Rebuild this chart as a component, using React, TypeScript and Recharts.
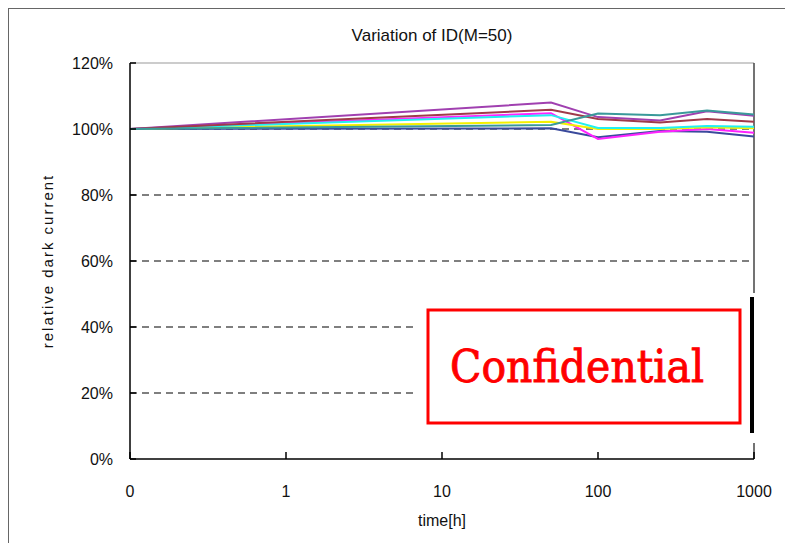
import { LineChart, Line, XAxis, YAxis, CartesianGrid, ReferenceLine } from 'recharts';

// measurement times in hours (0h is drawn at the 0.1 position of the log axis, as in the original)
const hours = [0, 50, 100, 250, 500, 1000];
const xTicks = [0.1, 1, 10, 100, 1000];
const xTickLabels = ['0', '1', '10', '100', '1000'];
const yTicks = [0, 20, 40, 60, 80, 100, 120];
const gridValues = [20, 40, 60, 80, 100];

// relative dark current, % of the initial value
const navy = [100, 100.2, 97.5, 99.4, 99.2, 97.7];
const magenta = [100, 104.8, 97.0, 99.2, 100.0, 98.9];
const yellow = [100, 102.2, 100.0, 100.0, 100.5, 100.2];
const cyan = [100, 104.2, 100.3, 100.3, 100.9, 100.7];
const purple = [100, 108.0, 103.6, 102.6, 105.4, 104.0];
const darkRed = [100, 105.8, 103.0, 102.0, 103.0, 102.2];
const teal = [100, 101.2, 104.7, 104.2, 105.6, 104.4];

const series = [
  { key: 'navy', values: navy, color: '#3a4a9c' },
  { key: 'magenta', values: magenta, color: '#ff22ff' },
  { key: 'yellow', values: yellow, color: '#f4f000' },
  { key: 'cyan', values: cyan, color: '#22f0f0' },
  { key: 'purple', values: purple, color: '#a040b0' },
  { key: 'darkRed', values: darkRed, color: '#a03a4a' },
  { key: 'teal', values: teal, color: '#3a9a9a' },
];

const data = hours.map((h, i) => {
  const row: Record<string, number> = { x: h === 0 ? 0.1 : h };
  series.forEach((s) => {
    row[s.key] = s.values[i];
  });
  return row;
});

const font = '"Liberation Sans", Arial, sans-serif';

export default function App() {
  return (
    <div
      style={{
        position: 'relative',
        width: 785,
        height: 535,
        boxSizing: 'border-box',
        borderLeft: '1px solid #666',
        borderTop: '1px solid #666',
        background: '#fff',
        fontFamily: font,
      }}
    >
      <div
        style={{
          position: 'absolute',
          left: 303,
          top: 17,
          width: 240,
          textAlign: 'center',
          fontSize: 17,
          color: '#111',
        }}
      >
        Variation of ID(M=50)
      </div>
      <LineChart
        width={784}
        height={534}
        data={data}
        margin={{ top: 54, right: 39, bottom: 0, left: 0 }}
      >
        <CartesianGrid
          vertical={false}
          horizontalValues={gridValues}
          stroke="#000"
          strokeWidth={1.2}
          strokeDasharray="7 5"
        />
        <XAxis
          dataKey="x"
          type="number"
          scale="log"
          domain={[0.1, 1000]}
          ticks={xTicks}
          allowDataOverflow
          height={84}
          tickSize={-7}
          tickMargin={34}
          stroke="#000"
          strokeWidth={1.5}
          tick={{ fill: '#111', fontSize: 16, fontFamily: font }}
          tickFormatter={(v: number) => xTickLabels[xTicks.indexOf(v)] ?? String(v)}
        />
        <YAxis
          type="number"
          domain={[0, 120]}
          ticks={yTicks}
          width={121}
          tickSize={-6}
          tickMargin={23}
          stroke="#000"
          strokeWidth={1.5}
          tick={{ fill: '#111', fontSize: 16, fontFamily: font }}
          tickFormatter={(v: number) => `${v}%`}
        />
        <ReferenceLine y={120} stroke="#999" strokeWidth={1} />
        <ReferenceLine x={1000} stroke="#444" strokeWidth={1.5} />
        {series.map((s) => (
          <Line
            key={s.key}
            dataKey={s.key}
            type="linear"
            stroke={s.color}
            strokeWidth={2}
            dot={false}
            activeDot={false}
            isAnimationActive={false}
          />
        ))}
      </LineChart>
      <div
        style={{
          position: 'absolute',
          left: 38,
          top: 252,
          transform: 'translate(-50%, -50%) rotate(-90deg)',
          whiteSpace: 'nowrap',
          fontSize: 15,
          letterSpacing: 2,
          color: '#111',
        }}
      >
        relative dark current
      </div>
      <div
        style={{
          position: 'absolute',
          left: 333,
          top: 503,
          width: 200,
          textAlign: 'center',
          fontSize: 16,
          color: '#111',
        }}
      >
        time[h]
      </div>
      <svg
        width={340}
        height={150}
        style={{ position: 'absolute', left: 406, top: 284 }}
      >
        <rect x={0} y={0} width={340} height={150} fill="#fff" />
        <rect x={13} y={17} width={312} height={113} fill="none" stroke="#ff0000" strokeWidth={3} />
        <text
          x={35}
          y={89}
          fill="#ff0000"
          stroke="#ff0000"
          strokeWidth={0.9}
          fontFamily='"DejaVu Serif", "Liberation Serif", serif'
          fontSize={45}
          textLength={254}
          lengthAdjust="spacingAndGlyphs"
        >
          Confidential
        </text>
        <rect x={335} y={4} width={4} height={136} fill="#000" />
      </svg>
    </div>
  );
}
